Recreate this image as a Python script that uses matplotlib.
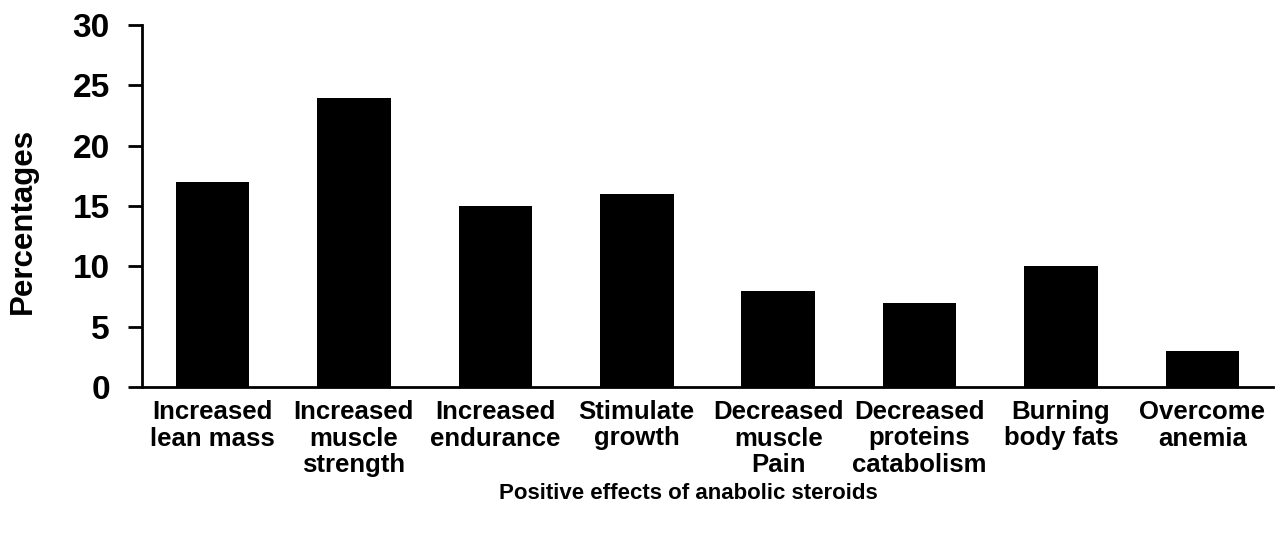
import matplotlib.pyplot as plt

plt.rcParams['font.family'] = ['Liberation Sans', 'DejaVu Sans']
plt.rcParams['font.weight'] = 'bold'

# data
effects = ['Increased\nlean mass', 'Increased\nmuscle\nstrength', 'Increased\nendurance',
           'Stimulate\ngrowth', 'Decreased\nmuscle\nPain', 'Decreased\nproteins\ncatabolism',
           'Burning\nbody fats', 'Overcome\nanemia']
percentages = [17, 24, 15, 16, 8, 7, 10, 3]
yticks = [0, 5, 10, 15, 20, 25, 30]

fig = plt.figure(figsize=(12.77, 5.34), dpi=100)
ax = fig.add_axes([0.111, 0.275, 0.886, 0.678])

ax.bar(range(len(effects)), percentages, width=0.52, color='black')

ax.set_xlim(-0.5, len(effects) - 0.5)
ax.set_ylim(0, 30)
ax.set_yticks(yticks)
ax.set_yticklabels([str(v) for v in yticks], fontsize=24, fontweight='bold')
ax.set_xticks(range(len(effects)))
ax.set_xticklabels(effects, fontsize=18.5, fontweight='bold', linespacing=1.15)

ax.tick_params(axis='y', length=10, width=2, pad=13)
ax.tick_params(axis='x', length=0, pad=9)

for s in ['top', 'right']:
    ax.spines[s].set_visible(False)
ax.spines['left'].set_linewidth(2)
ax.spines['bottom'].set_linewidth(2)

ax.set_ylabel('Percentages', fontsize=22.5, fontweight='bold')
ax.yaxis.set_label_coords(-0.092, 0.46)
fig.text(0.539, 0.075, 'Positive effects of anabolic steroids', fontsize=16,
         fontweight='bold', ha='center', va='center')

fig.savefig('out.png', dpi=100)
